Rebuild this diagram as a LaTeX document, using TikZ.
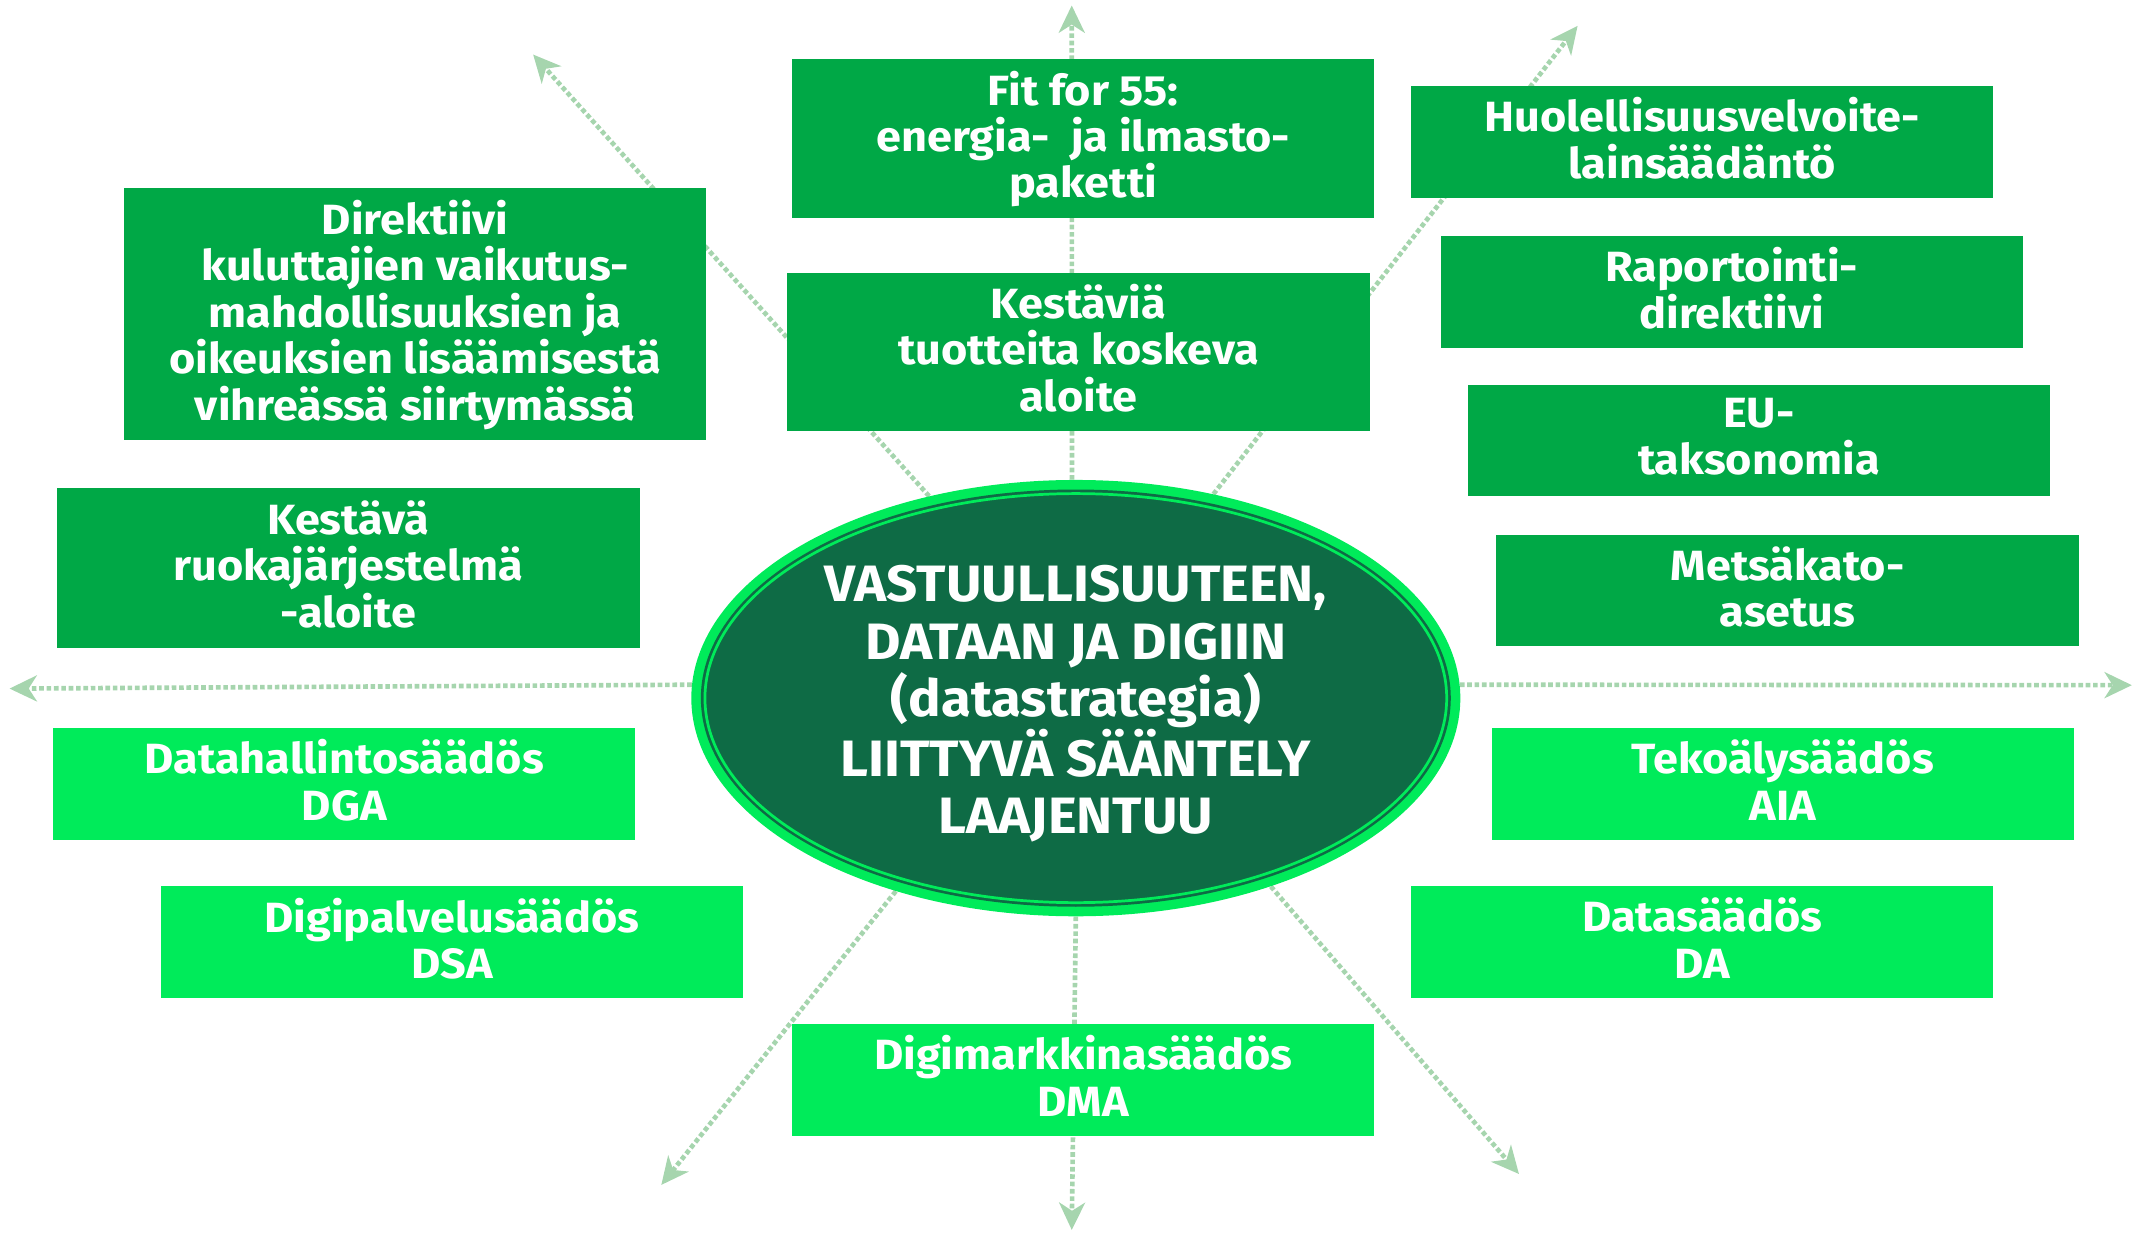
\documentclass[tikz,border=0pt]{standalone}
\usepackage{fontspec}
\setmainfont{Fira Sans}[FakeStretch=1.065]
\usetikzlibrary{arrows.meta,shapes.geometric}
\definecolor{boxdark}{HTML}{00A846}
\definecolor{boxlight}{HTML}{00EB5A}
\definecolor{hubfill}{HTML}{0E6B45}
\definecolor{arrowc}{HTML}{A6D5AE}
\pgfdeclarelayer{background}
\pgfsetlayers{background,main}
\begin{document}
\begin{tikzpicture}[x=1pt,y=-1pt,
  box/.style={rectangle, inner sep=0pt, minimum width=427pt, text=white, align=center,
    text depth=6pt, font=\fontsize{31}{34}\selectfont\bfseries},
  darkbox/.style={box, fill=boxdark},
  lightbox/.style={box, fill=boxlight},
  ray/.style={draw=arrowc, line width=3.4pt, dash pattern=on 3.4pt off 2pt,
    -{Stealth[length=20pt,width=19pt,inset=6pt]}},
  hubtextstyle/.style={text=white, align=center, inner sep=0pt, text depth=0pt,
    font=\fontsize{37.5}{42}\selectfont\bfseries}]
\useasboundingbox (0,0) rectangle (1568,904.3);

% central ellipse
\node[ellipse, fill=boxlight, minimum width=564pt, minimum height=320pt, inner sep=0pt] (hub) at (789,512) {};
\fill[hubfill] (hub.center) ellipse [x radius=275pt, y radius=153pt];
\draw[boxlight, line width=2pt] (hub.center) ellipse [x radius=272pt, y radius=150pt];
\node[hubtextstyle] (hubtext) at (789,513) {VASTUULLISUUTEEN,\\DATAAN JA DIGIIN\\(datastrategia)\\LIITTYVÄ SÄÄNTELY\\LAAJENTUU};

% boxes
\node[darkbox, minimum height=117pt] (fit) at (794.5,101.5) {Fit for 55:\\energia-~ ja ilmasto-\\paketti};
\node[darkbox, minimum height=116pt] (kest) at (791,258) {Kestäviä\\tuotteita koskeva\\aloite};
\node[darkbox, minimum height=185pt] (dir) at (304.5,230.5) {Direktiivi\\kuluttajien vaikutus-\\mahdollisuuksien ja\\oikeuksien lisäämisestä\\vihreässä siirtymässä};
\node[darkbox, minimum height=117pt] (ruoka) at (255.5,416.5) {Kestävä\\ruokajärjestelmä\\-aloite};
\node[darkbox, minimum height=82pt] (huol) at (1248.5,104) {Huolellisuusvelvoite-\\lainsäädäntö};
\node[darkbox, minimum height=82pt] (rap) at (1270,214) {Raportointi-\\direktiivi};
\node[darkbox, minimum height=82pt] (eu) at (1290,323) {EU-\\taksonomia};
\node[darkbox, minimum height=82pt] (mets) at (1311,433) {Metsäkato-\\asetus};
\node[lightbox, minimum height=82pt] (dga) at (252.5,575) {Datahallintosäädös\\DGA};
\node[lightbox, minimum height=82pt] (dsa) at (331.5,691) {Digipalvelusäädös\\DSA};
\node[lightbox, minimum height=82pt] (dma) at (794.5,792) {Digimarkkinasäädös\\DMA};
\node[lightbox, minimum height=82pt] (aia) at (1307.5,575) {Tekoälysäädös\\AIA};
\node[lightbox, minimum height=82pt] (da) at (1248.5,691) {Datasäädös\\DA};

% arrow tips
\coordinate (tU) at (786,4);
\coordinate (tD) at (786,902);
\coordinate (tL) at (7,505);
\coordinate (tR) at (1563.5,502.5);
\coordinate (tUL) at (391,40);
\coordinate (tUR) at (1157,19);
\coordinate (tLL) at (485,869);
\coordinate (tLR) at (1114,861);

\begin{pgfonlayer}{background}
\draw[ray] (hub.91.1) -- (tU);
\draw[ray] (hub.-90.7) -- (tD);
\draw[ray] (hub.178.5) -- (tL);
\draw[ray] (hub.2) -- (tR);
\draw[ray] (hub.126.5) -- (tUL);
\draw[ray] (hub.56.9) -- (tUR);
\draw[ray] (hub.-133.1) -- (tLL);
\draw[ray] (hub.-44.8) -- (tLR);
\end{pgfonlayer}
\end{tikzpicture}
\end{document}
